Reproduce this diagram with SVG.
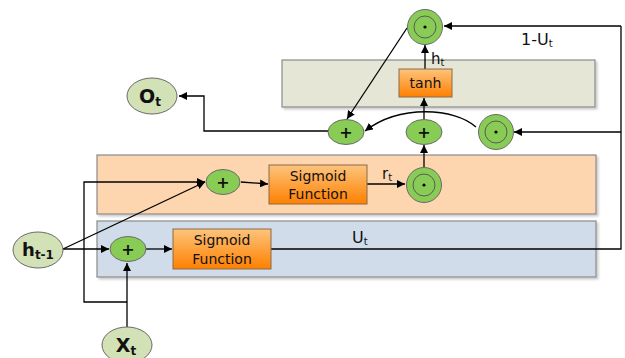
<svg xmlns="http://www.w3.org/2000/svg" width="625" height="358" viewBox="0 0 625 358">
<defs>
<linearGradient id="og" x1="0" y1="0" x2="0" y2="1">
<stop offset="0" stop-color="#fcc47c"/>
<stop offset="1" stop-color="#ff8000"/>
</linearGradient>
<marker id="ah" viewBox="0 0 10 10" refX="10" refY="5" markerWidth="8" markerHeight="8" markerUnits="userSpaceOnUse" orient="auto">
<path d="M0,0 L10,5 L0,10 z" fill="#000"/>
</marker>
<filter id="sh" x="-5%" y="-5%" width="115%" height="130%">
<feDropShadow dx="2" dy="2" stdDeviation="1" flood-color="#000" flood-opacity="0.2"/>
</filter>
</defs>
<style>
.band{stroke:#8a8a8a;stroke-width:1.2;filter:url(#sh)}
.fn{fill:url(#og);stroke:#8a6a4a;stroke-width:1}
.op{fill:#88cc55;stroke:#6a6a6a;stroke-width:1}
.in{fill:#d3e1b6;stroke:#6a6a6a;stroke-width:1}
.ring{fill:none;stroke:#5a5a5a;stroke-width:1}
.t{font-family:"DejaVu Sans","Liberation Sans",sans-serif;fill:#111}
.lbl{font-size:14px;text-anchor:middle}
.c{fill:none;stroke:#000;stroke-width:1.3}
.a{marker-end:url(#ah)}
</style>
<g id="bands">
<rect class="band" x="282" y="60" width="313" height="47" fill="#e6e6d6"/>
<rect class="band" x="97" y="155" width="499" height="59" fill="#fdd5ae"/>
<rect class="band" x="97" y="221" width="499" height="56" fill="#d0dce9"/>
</g>
<g id="connectors">
<path class="c a" d="M63,249 L109,249"/>
<path class="c a" d="M63,249 L205,182"/>
<path class="c a" d="M127,302 L84,302 L84,182 L205,182"/>
<path class="c a" d="M127,327 L127,263" stroke-width="2"/>
<path class="c a" d="M146,249 L172,249"/>
<path class="c a" d="M241,182 L268,184"/>
<path class="c" d="M271,249 L621,249 L621,26"/>
<path class="c a" d="M621,26 L444,26"/>
<path class="c a" d="M621,132 L514,132"/>
<path class="c a" d="M367,184 L405,184"/>
<path class="c a" d="M424,167 L424,145"/>
<path class="c a" d="M424,119 L424,98"/>
<path class="c a" d="M425,69 L425,45"/>
<path class="c a" d="M407,28 L347,119"/>
<path class="c a" d="M476,127 C455,108 400,104 365,131"/>
<path class="c a" d="M328,131 L204,131 L204,96 L179,96"/>
</g>
<g id="label-1-Ut"><text class="t" x="521" y="45" font-size="16">1-U<tspan font-size="10" dy="2">t</tspan></text></g>
<g id="label-Ut"><text class="t" x="352" y="243" font-size="16">U<tspan font-size="10" dy="2">t</tspan></text></g>
<g id="label-rt"><text class="t" x="382" y="179" font-size="15">r<tspan font-size="10" dy="2">t</tspan></text></g>
<g id="label-ht"><text class="t" x="431" y="64" font-size="15">h<tspan font-size="10" dy="2">t</tspan></text></g>
<g id="Ot">
<ellipse class="in" cx="152" cy="96" rx="25" ry="18"/>
<text class="t" x="150" y="103" font-size="19" font-weight="bold" text-anchor="middle">O<tspan font-size="12" dy="3">t</tspan></text>
</g>
<g id="ht1">
<ellipse class="in" cx="38" cy="250" rx="25" ry="18"/>
<text class="t" x="38" y="256" font-size="18" font-weight="bold" text-anchor="middle">h<tspan font-size="12" dy="3">t-1</tspan></text>
</g>
<g id="Xt">
<ellipse class="in" cx="127" cy="345" rx="25" ry="18"/>
<text class="t" x="126" y="352" font-size="19" font-weight="bold" text-anchor="middle">X<tspan font-size="12" dy="3">t</tspan></text>
</g>
<g id="plus-u">
<ellipse class="op" cx="128" cy="249" rx="18" ry="12.5"/>
<text class="t" x="128" y="255" font-size="16" font-weight="bold" text-anchor="middle">+</text>
</g>
<g id="plus-r">
<ellipse class="op" cx="223" cy="182" rx="17" ry="12.5"/>
<text class="t" x="223" y="188" font-size="16" font-weight="bold" text-anchor="middle">+</text>
</g>
<g id="plus-left">
<ellipse class="op" cx="346" cy="132" rx="18" ry="12.5"/>
<text class="t" x="346" y="138" font-size="16" font-weight="bold" text-anchor="middle">+</text>
</g>
<g id="plus-mid">
<ellipse class="op" cx="424" cy="132" rx="18" ry="12.5"/>
<text class="t" x="424" y="138" font-size="16" font-weight="bold" text-anchor="middle">+</text>
</g>
<g id="dot-top">
<circle class="op" cx="425" cy="27" r="17.5"/>
<circle class="ring" cx="425" cy="27" r="11"/>
<circle cx="425" cy="27" r="1.6" fill="#000"/>
</g>
<g id="dot-right">
<circle class="op" cx="496" cy="132" r="17.5"/>
<circle class="ring" cx="496" cy="132" r="11"/>
<circle cx="496" cy="132" r="1.6" fill="#000"/>
</g>
<g id="dot-r">
<circle class="op" cx="424" cy="185" r="17.5"/>
<circle class="ring" cx="424" cy="185" r="11"/>
<circle cx="424" cy="185" r="1.6" fill="#000"/>
</g>
<g id="tanh">
<rect class="fn" x="399" y="69" width="53" height="28"/>
<text class="t lbl" x="425.5" y="88">tanh</text>
</g>
<g id="sigmoid-r">
<rect class="fn" x="269" y="165" width="98" height="39"/>
<text class="t lbl" x="318" y="181">Sigmoid</text>
<text class="t lbl" x="318" y="199">Function</text>
</g>
<g id="sigmoid-u">
<rect class="fn" x="173" y="229" width="98" height="40"/>
<text class="t lbl" x="222" y="245">Sigmoid</text>
<text class="t lbl" x="222" y="264">Function</text>
</g>
</svg>
